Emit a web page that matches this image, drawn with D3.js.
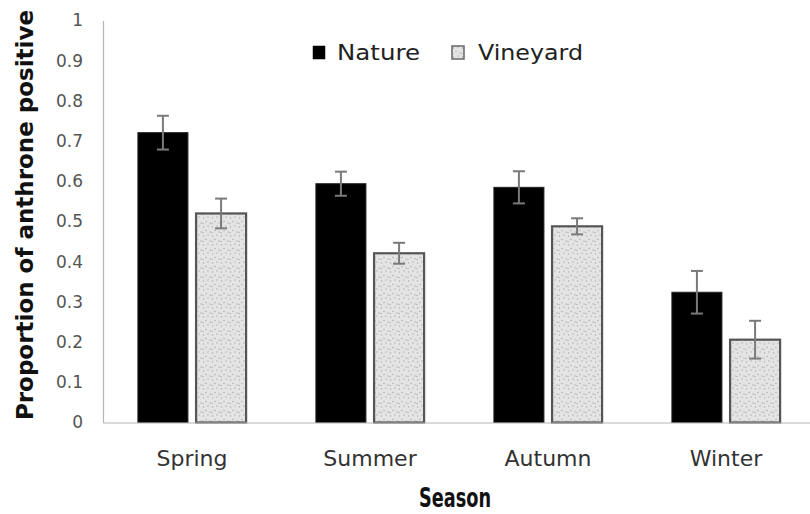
<!DOCTYPE html>
<html>
<head>
<meta charset="utf-8">
<script src="https://cdn.jsdelivr.net/npm/d3@7/dist/d3.min.js"></script>
<style>
  html, body { margin: 0; padding: 0; background: #fff; }
  svg { display: block; }
  text { font-family: "DejaVu Sans", sans-serif; }
</style>
</head>
<body>
<svg id="chart" width="810" height="514"></svg>
<script>
// Proportion of anthrone-positive samples by season and habitat
const seasons = ["Spring", "Summer", "Autumn", "Winter"];
const series = ["Nature", "Vineyard"];
const natureValues = [0.721, 0.594, 0.585, 0.324];
const natureErrors = [0.042, 0.030, 0.040, 0.053];
const vineyardValues = [0.520, 0.421, 0.488, 0.206];
const vineyardErrors = [0.037, 0.026, 0.020, 0.047];
const yTicks = [0, 0.1, 0.2, 0.3, 0.4, 0.5, 0.6, 0.7, 0.8, 0.9, 1];
const yTickLabels = ["0", "0.1", "0.2", "0.3", "0.4", "0.5", "0.6", "0.7", "0.8", "0.9", "1"];

const rows = seasons.map((s, i) => ({
  season: s,
  values: [
    { key: "Nature", value: natureValues[i], err: natureErrors[i] },
    { key: "Vineyard", value: vineyardValues[i], err: vineyardErrors[i] }
  ]
}));

const svg = d3.select("#chart");

// dotted fill for the vineyard bars
const defs = svg.append("defs");
const pat = defs.append("pattern")
  .attr("id", "dots")
  .attr("patternUnits", "userSpaceOnUse")
  .attr("width", 9).attr("height", 9);
pat.append("rect").attr("width", 9).attr("height", 9).attr("fill", "#e4e4e4");
[[1.5, 2, "#a9a9b4"], [6, 1, "#b7a9a9"], [4, 5.5, "#a6a6a6"], [8, 7, "#a9b0b9"], [1, 7.5, "#b4a6ad"]]
  .forEach(([cx, cy, c]) => pat.append("circle").attr("cx", cx).attr("cy", cy).attr("r", 0.7).attr("fill", c));

const plotLeft = 103, plotRight = 815, plotTop = 20.5, plotBottom = 422.5;

const x0 = d3.scaleBand().domain(seasons).range([plotLeft, plotRight]).padding(0);
const x1 = d3.scaleBand().domain(series).range([0, x0.bandwidth()])
  .paddingInner(0.14).paddingOuter(0.6);
const y = d3.scaleLinear().domain([0, 1]).range([plotBottom, plotTop]);

// y axis (labels only, light axis line)
const yAxis = d3.axisLeft(y).tickValues(yTicks)
  .tickFormat((d, i) => yTickLabels[i]).tickSize(0).tickPadding(20);
const gy = svg.append("g").attr("transform", `translate(${plotLeft},0)`).call(yAxis);
gy.select(".domain").attr("stroke", "#b5b5b5").attr("stroke-width", 1.2);
gy.selectAll("text").attr("font-size", 17).attr("fill", "#555")
  .attr("font-family", "DejaVu Sans Condensed, DejaVu Sans, sans-serif");

// bars
const groups = svg.append("g").selectAll("g").data(rows).join("g")
  .attr("transform", d => `translate(${x0(d.season)},0)`);

groups.selectAll("rect").data(d => d.values).join("rect")
  .attr("x", d => x1(d.key))
  .attr("y", d => y(d.value))
  .attr("width", x1.bandwidth())
  .attr("height", d => y(0) - y(d.value))
  .attr("fill", d => d.key === "Nature" ? "#000" : "url(#dots)")
  .attr("stroke", d => d.key === "Nature" ? "#222" : "#555")
  .attr("stroke-width", d => d.key === "Nature" ? 1 : 2.2);

// error bars
const eb = groups.selectAll("g.err").data(d => d.values).join("g").attr("class", "err")
  .attr("stroke", "#7a7a7a").attr("stroke-width", 2);
eb.append("line")
  .attr("x1", d => x1(d.key) + x1.bandwidth() / 2)
  .attr("x2", d => x1(d.key) + x1.bandwidth() / 2)
  .attr("y1", d => y(d.value + d.err))
  .attr("y2", d => y(d.value - d.err));
eb.append("line")
  .attr("x1", d => x1(d.key) + x1.bandwidth() / 2 - 6)
  .attr("x2", d => x1(d.key) + x1.bandwidth() / 2 + 6)
  .attr("y1", d => y(d.value + d.err))
  .attr("y2", d => y(d.value + d.err));
eb.append("line")
  .attr("x1", d => x1(d.key) + x1.bandwidth() / 2 - 6)
  .attr("x2", d => x1(d.key) + x1.bandwidth() / 2 + 6)
  .attr("y1", d => y(d.value - d.err))
  .attr("y2", d => y(d.value - d.err));

// x axis
const xAxis = d3.axisBottom(x0).tickSize(0).tickPadding(28);
const gx = svg.append("g").attr("transform", `translate(0,${plotBottom})`).call(xAxis);
gx.select(".domain").attr("stroke", "#b5b5b5").attr("stroke-width", 1.2);
gx.selectAll("text").attr("font-size", 22).attr("fill", "#333")
  .attr("font-family", "DejaVu Sans, sans-serif");

// axis titles
svg.append("text")
  .attr("x", 455).attr("y", 507)
  .attr("text-anchor", "middle")
  .attr("font-family", "DejaVu Sans Condensed, DejaVu Sans, sans-serif")
  .attr("font-size", 26).attr("font-weight", "bold").attr("fill", "#111")
  .attr("textLength", 72).attr("lengthAdjust", "spacingAndGlyphs")
  .text("Season");

svg.append("text")
  .attr("transform", "translate(33,215) rotate(-90)")
  .attr("text-anchor", "middle")
  .attr("font-family", "DejaVu Sans Condensed, DejaVu Sans, sans-serif")
  .attr("font-size", 23).attr("font-weight", "bold").attr("fill", "#111")
  .text("Proportion of anthrone positive");

// legend
const legendX = [313, 452];
const legendTextLen = [83, 105];
const legend = svg.append("g").selectAll("g").data(series).join("g")
  .attr("transform", (d, i) => `translate(${legendX[i]},46)`);
legend.append("rect")
  .attr("width", 12).attr("height", 13)
  .attr("fill", d => d === "Nature" ? "#000" : "url(#dots)")
  .attr("stroke", d => d === "Nature" ? "#000" : "#666")
  .attr("stroke-width", d => d === "Nature" ? 0.5 : 1.5);
legend.append("text")
  .attr("x", (d, i) => i === 0 ? 24 : 26)
  .attr("y", 13.5)
  .attr("font-size", 22).attr("fill", "#222")
  .attr("textLength", (d, i) => legendTextLen[i]).attr("lengthAdjust", "spacingAndGlyphs")
  .text(d => d);
</script>
</body>
</html>
